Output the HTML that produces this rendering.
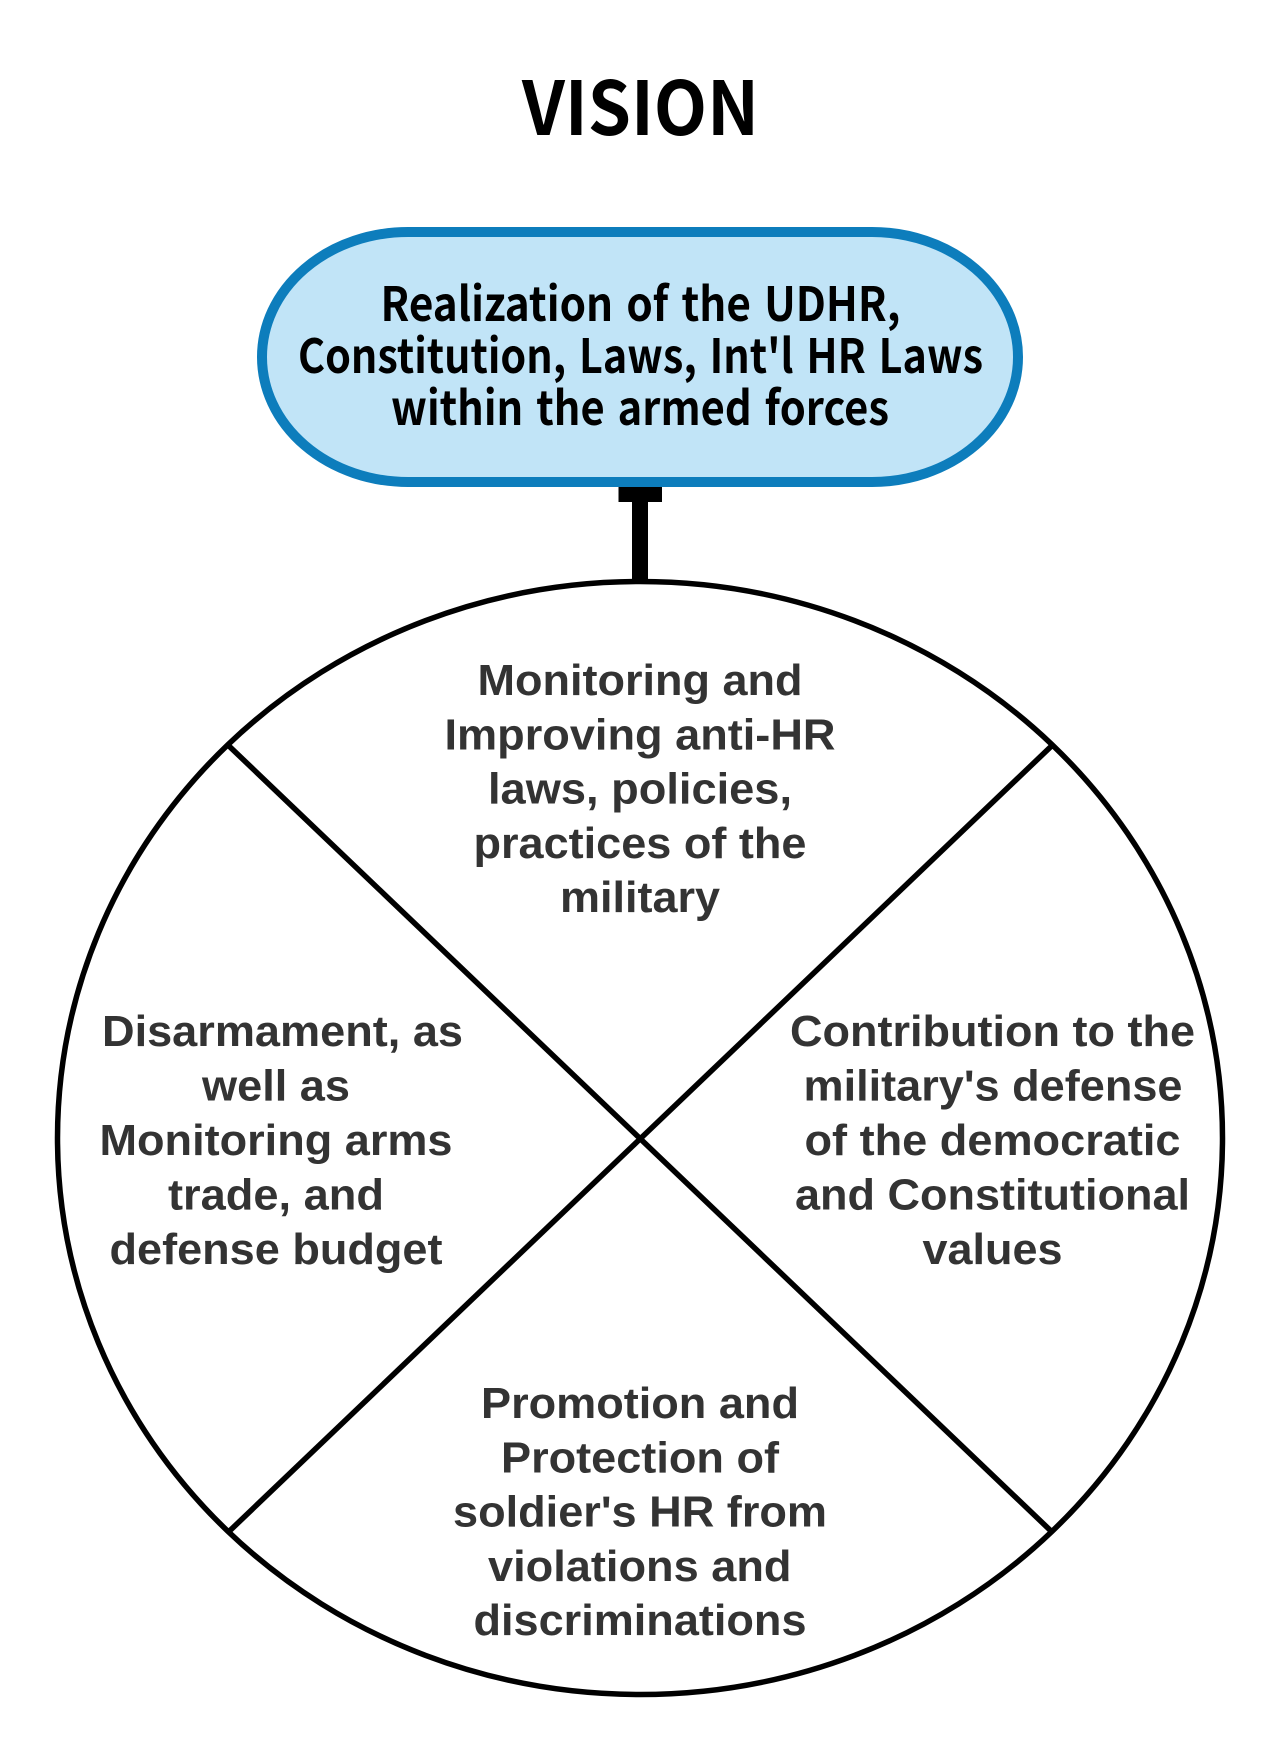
<!DOCTYPE html>
<html lang="en">
<head>
<meta charset="utf-8">
<title>Vision diagram</title>
<style>
html,body{margin:0;padding:0;background:#fff;width:1280px;height:1752px;overflow:hidden}
svg{display:block}
.h{font-family:"Noto Sans CJK KR","Liberation Sans",sans-serif;font-weight:700;fill:#000}
.p{word-spacing:4px}
.b{font-family:"Liberation Sans",sans-serif;font-weight:700;font-size:44px;fill:#333;text-anchor:start}
</style>
</head>
<body>
<svg width="1280" height="1752" viewBox="0 0 1280 1752" xmlns="http://www.w3.org/2000/svg">
<rect width="1280" height="1752" fill="#fff"/>
<text class="h" x="522" y="135" font-size="74" textLength="237" lengthAdjust="spacingAndGlyphs">VISION</text>

<rect x="262" y="232" width="756" height="250" rx="146" ry="125" fill="#c1e4f7" stroke="#0d7dbc" stroke-width="10"/>
<text class="h p" x="380.500" y="321" font-size="47" textLength="520" lengthAdjust="spacingAndGlyphs">Realization of the UDHR,</text>
<text class="h p" x="298" y="373" font-size="47" textLength="685" lengthAdjust="spacingAndGlyphs">Constitution, Laws, Int'l HR Laws</text>
<text class="h p" x="391" y="425" font-size="47" textLength="498" lengthAdjust="spacingAndGlyphs">within the armed forces</text>

<rect x="618.500" y="487" width="43.500" height="15" fill="#000"/>
<rect x="632" y="500" width="16" height="82" fill="#000"/>

<ellipse cx="640" cy="1138" rx="582.500" ry="556.500" fill="none" stroke="#000" stroke-width="5.500"/>
<line x1="229.500" y1="746.500" x2="1051" y2="1531" stroke="#000" stroke-width="5.500"/>
<line x1="1051" y1="746.500" x2="229.500" y2="1531" stroke="#000" stroke-width="5.500"/>

<text class="b" x="477.500" y="695" textLength="325" lengthAdjust="spacingAndGlyphs">Monitoring and</text>
<text class="b" x="444.500" y="749.500" textLength="391" lengthAdjust="spacingAndGlyphs">Improving anti-HR</text>
<text class="b" x="488" y="803.500" textLength="304" lengthAdjust="spacingAndGlyphs">laws, policies,</text>
<text class="b" x="473.500" y="858" textLength="333" lengthAdjust="spacingAndGlyphs">practices of the</text>
<text class="b" x="560" y="912" textLength="160" lengthAdjust="spacingAndGlyphs">military</text>

<text class="b" x="102" y="1046" textLength="361" lengthAdjust="spacingAndGlyphs">Disarmament, as</text>
<text class="b" x="202" y="1100.500" textLength="148" lengthAdjust="spacingAndGlyphs">well as</text>
<text class="b" x="99.500" y="1155" textLength="353" lengthAdjust="spacingAndGlyphs">Monitoring arms</text>
<text class="b" x="168" y="1209.500" textLength="216" lengthAdjust="spacingAndGlyphs">trade, and</text>
<text class="b" x="109.500" y="1264" textLength="333" lengthAdjust="spacingAndGlyphs">defense budget</text>

<text class="b" x="790" y="1046" textLength="405" lengthAdjust="spacingAndGlyphs">Contribution to the</text>
<text class="b" x="803.500" y="1100.500" textLength="379" lengthAdjust="spacingAndGlyphs">military's defense</text>
<text class="b" x="804.500" y="1155" textLength="376" lengthAdjust="spacingAndGlyphs">of the democratic</text>
<text class="b" x="795" y="1209.500" textLength="395" lengthAdjust="spacingAndGlyphs">and Constitutional</text>
<text class="b" x="922.500" y="1264" textLength="140" lengthAdjust="spacingAndGlyphs">values</text>

<text class="b" x="481" y="1418" textLength="318" lengthAdjust="spacingAndGlyphs">Promotion and</text>
<text class="b" x="501" y="1472.500" textLength="278" lengthAdjust="spacingAndGlyphs">Protection of</text>
<text class="b" x="453" y="1526.500" textLength="374" lengthAdjust="spacingAndGlyphs">soldier's HR from</text>
<text class="b" x="488" y="1581" textLength="303.500" lengthAdjust="spacingAndGlyphs">violations and</text>
<text class="b" x="473.500" y="1635" textLength="333" lengthAdjust="spacingAndGlyphs">discriminations</text>
</svg>
</body>
</html>
